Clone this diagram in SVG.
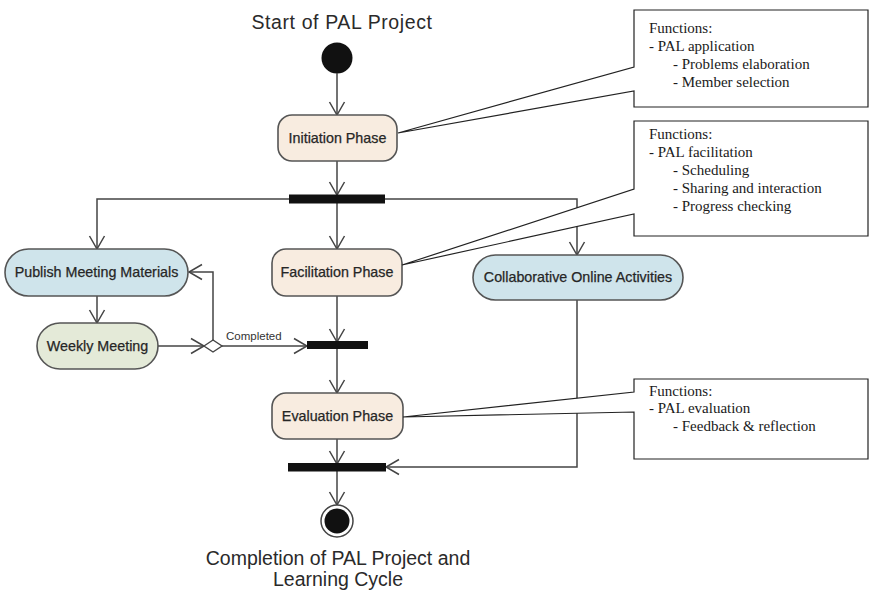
<svg xmlns="http://www.w3.org/2000/svg" width="869" height="590" viewBox="0 0 869 590">
<defs>
<marker id="arr" markerUnits="userSpaceOnUse" markerWidth="16" markerHeight="18" viewBox="0 0 16 18" refX="14" refY="9" orient="auto">
<path d="M1,1.5 L14,9 L1,16.5" fill="none" stroke="#444" stroke-width="1.5"/>
</marker>
</defs>
<style>
.title{font-family:"Liberation Sans",Arial,sans-serif;font-size:19.5px;fill:#2a2a2a;text-anchor:middle}
.lbl{font-family:"Liberation Sans",Arial,sans-serif;font-size:14.3px;fill:#262626;text-anchor:middle;stroke:#262626;stroke-width:0.25}
.small{font-family:"Liberation Sans",Arial,sans-serif;font-size:11.5px;fill:#333}
.note{font-family:"Liberation Serif","Times New Roman",serif;font-size:15px;fill:#1a1a1a}
.phase{fill:#f8ece0;stroke:#555;stroke-width:1.6}
.blue{fill:#cfe4eb;stroke:#555;stroke-width:1.6}
.green{fill:#e4ead8;stroke:#555;stroke-width:1.6}
.bar{fill:#111}
.conn{fill:none;stroke:#444;stroke-width:1.5}
.callout{fill:#fff;stroke:#222;stroke-width:1.2}
</style>
<rect width="869" height="590" fill="#fff"/>

<g id="start">
<text class="title" x="342" y="29" letter-spacing="0.6">Start of PAL Project</text>
<circle cx="337" cy="58" r="15.5" fill="#111"/>
</g>

<g id="connectors">
<path class="conn" d="M337,73 V115" marker-end="url(#arr)"/>
<path class="conn" d="M337,161 V195" marker-end="url(#arr)"/>
<path class="conn" d="M337,203 V249" marker-end="url(#arr)"/>
<path class="conn" d="M289,199 H97 V249" marker-end="url(#arr)"/>
<path class="conn" d="M385,199 H577 V255" marker-end="url(#arr)"/>
<path class="conn" d="M97,296 V323" marker-end="url(#arr)"/>
<path class="conn" d="M158,346 H204" marker-end="url(#arr)"/>
<path class="conn" d="M213,340 V272 H189" marker-end="url(#arr)"/>
<path class="conn" d="M222,346 H307" marker-end="url(#arr)"/>
<text class="small" x="226" y="340">Completed</text>
<path class="conn" d="M337,296 V342" marker-end="url(#arr)"/>
<path class="conn" d="M337,348 V393" marker-end="url(#arr)"/>
<path class="conn" d="M337,439 V464" marker-end="url(#arr)"/>
<path class="conn" d="M577,300 V467 H386" marker-end="url(#arr)"/>
<path class="conn" d="M337,471 V505" marker-end="url(#arr)"/>
</g>

<g id="initiation">
<rect class="phase" x="278" y="115" width="119" height="46" rx="14"/>
<text class="lbl" x="337.5" y="143">Initiation Phase</text>
</g>

<g id="fork1"><rect class="bar" x="289" y="194.5" width="96" height="9"/></g>

<g id="publish">
<rect class="blue" x="5" y="249" width="183" height="47" rx="23.5"/>
<text class="lbl" x="96.5" y="277">Publish Meeting Materials</text>
</g>

<g id="facilitation">
<rect class="phase" x="272" y="249" width="130" height="47" rx="14"/>
<text class="lbl" x="337" y="277">Facilitation Phase</text>
</g>

<g id="collab">
<rect class="blue" x="473" y="255" width="210" height="45" rx="22.5"/>
<text class="lbl" x="578" y="282">Collaborative Online Activities</text>
</g>

<g id="weekly">
<rect class="green" x="37" y="323" width="121" height="46" rx="23"/>
<text class="lbl" x="97.5" y="351">Weekly Meeting</text>
</g>

<g id="decision">
<polygon points="204,346 213,340 222,346 213,352" fill="#fff" stroke="#444" stroke-width="1.4"/>
</g>

<g id="join1"><rect class="bar" x="307" y="341" width="61" height="8"/></g>

<g id="evaluation">
<rect class="phase" x="272" y="393" width="131" height="46" rx="14"/>
<text class="lbl" x="337.5" y="421">Evaluation Phase</text>
</g>

<g id="join2"><rect class="bar" x="288" y="463" width="98" height="8.5"/></g>

<g id="end">
<circle cx="337" cy="521" r="16" fill="#fff" stroke="#444" stroke-width="1.5"/>
<circle cx="337" cy="521" r="12.5" fill="#111"/>
<text class="title" x="338" y="565">Completion of PAL Project and</text>
<text class="title" x="338" y="586">Learning Cycle</text>
</g>

<g id="note1">
<path class="callout" d="M634,10 H868 V107 H634 V91 L398,133 L634,67 Z"/>
<text class="note" x="649" y="33">Functions:</text>
<text class="note" x="649" y="51">- PAL application</text>
<text class="note" x="673" y="69">- Problems elaboration</text>
<text class="note" x="673" y="87">- Member selection</text>
</g>

<g id="note2">
<path class="callout" d="M634,121 H868 V236 H634 V214 L402,265 L634,189 Z"/>
<text class="note" x="649" y="139">Functions:</text>
<text class="note" x="649" y="157">- PAL facilitation</text>
<text class="note" x="673" y="175">- Scheduling</text>
<text class="note" x="673" y="193">- Sharing and interaction</text>
<text class="note" x="673" y="211">- Progress checking</text>
</g>

<g id="note3">
<path class="callout" d="M634,379 H868 V459 H634 V412 L403,417 L634,392 Z"/>
<text class="note" x="649" y="396">Functions:</text>
<text class="note" x="649" y="413">- PAL evaluation</text>
<text class="note" x="673" y="431">- Feedback &amp; reflection</text>
</g>
</svg>
